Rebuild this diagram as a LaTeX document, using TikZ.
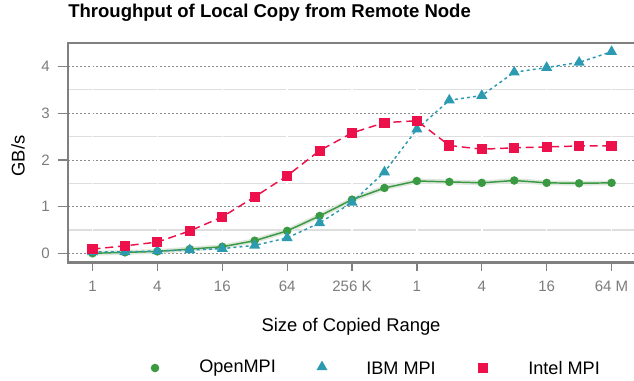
\documentclass[tikz,border=0pt]{standalone}
\usepackage{fontspec}
\setmainfont{Liberation Sans}
\usetikzlibrary{shapes.geometric}

\definecolor{ompicol}{RGB}{58,154,66}
\definecolor{ibmcol}{RGB}{44,154,176}
\definecolor{intelcol}{RGB}{236,17,74}
\definecolor{ticktext}{RGB}{125,125,125}
\definecolor{framecol}{RGB}{128,128,128}
\definecolor{majorcol}{RGB}{140,140,140}
\definecolor{minorcol}{RGB}{222,222,222}
\definecolor{ribboncol}{RGB}{222,230,222}

\pgfdeclarelayer{grid}
\pgfdeclarelayer{lines}
\pgfsetlayers{grid,lines,main}

\begin{document}
\begin{tikzpicture}[x=0.75pt,y=-0.75pt,
  titletext/.style={font=\fontsize{13.9}{16}\selectfont\bfseries, inner sep=0pt},
  axistitle/.style={font=\fontsize{13.8}{16}\selectfont, inner sep=0pt},
  legendtext/.style={font=\fontsize{13.6}{16}\selectfont, inner sep=0pt, anchor=west},
  ylab/.style={font=\fontsize{11.3}{13}\selectfont, text=ticktext, inner sep=0pt, anchor=east},
  xlab/.style={font=\fontsize{11.3}{13}\selectfont, text=ticktext, inner sep=0pt},
  tickline/.style={draw=framecol, line width=0.9pt},
  panelframe/.style={draw=framecol, line width=1.6pt},
  majorgrid/.style={draw=majorcol, line width=0.7pt, dash pattern=on 1.2pt off 1.8pt},
  minorgrid/.style={draw=minorcol, line width=0.8pt},
  vgrid/.style={draw=white, line width=1.1pt},
  ompiline/.style={draw=ompicol, line width=1.1pt},
  ibmline/.style={draw=ibmcol, line width=1.1pt, dash pattern=on 2.2pt off 2.4pt},
  intelline/.style={draw=intelcol, line width=1.1pt, dash pattern=on 6pt off 3.6pt},
  ribbon/.style={draw=ribboncol, line width=3.6pt, line join=round},
  ompimark/.style={circle, fill=ompicol, inner sep=0pt, minimum size=6.4pt},
  ibmmark/.style={regular polygon, regular polygon sides=3, fill=ibmcol, inner sep=0pt, minimum size=9.6pt},
  intelmark/.style={rectangle, fill=intelcol, inner sep=0pt, minimum size=7.6pt}]

\useasboundingbox (0,0) rectangle (634,381);
\begin{pgfonlayer}{grid}
  \fill[white] (0,0) rectangle (634,381);
\end{pgfonlayer}

% title
\node[titletext, anchor=base west] (title) at (68,17.5) {Throughput of Local Copy from Remote Node};

% data panel: x in steps of one doubling, y in GB/s
\begin{scope}[shift={(92.5,253.3)}, x=24.33pt, y=35pt]
  \def\panL{-0.755}
  \def\panR{16.7}
  \def\panB{-0.197}
  \def\panT{4.509}

  \begin{pgfonlayer}{grid}
    \foreach \v in {0.5,1.5,2.5,3.5}
      \draw[minorgrid] (\panL,\v) -- (\panR,\v);
    \foreach \v in {0,...,4}
      \draw[majorgrid] (\panL,\v) -- (\panR,\v);
    \foreach \i in {0,2,...,16}
      \draw[vgrid] (\i,\panB) -- (\i,\panT);
  \end{pgfonlayer}

  \draw[panelframe] (\panR,\panT) -- (\panL,\panT) -- (\panL,\panB) -- (\panR,\panB);

  % axis ticks and labels
  \foreach \v in {0,...,4} {
    \draw[tickline] (-1.063,\v) -- (\panL,\v);
    \node[ylab] (ylab\v) at (-1.31,\v) {\v};
  }
  \foreach \l [count=\k from 0] in {1,4,16,64,256 K,1,4,16,64 M} {
    \draw[tickline] (2*\k,\panB) -- (2*\k,-0.379);
    \node[xlab] (xlab\k) at (2*\k,-0.70) {\l};
  }

  % OpenMPI
  \foreach \v [count=\i from 0] in {0.00,0.02,0.04,0.09,0.14,0.27,0.48,0.80,1.15,1.40,1.55,1.53,1.51,1.56,1.51,1.50,1.51}
    \node[ompimark] (o\i) at (\i,\v) {};
  % IBM MPI
  \foreach \v [count=\i from 0] in {0.03,0.03,0.05,0.07,0.10,0.17,0.33,0.65,1.09,1.74,2.66,3.28,3.38,3.88,3.98,4.09,4.32}
    \node[ibmmark] (b\i) at (\i,\v) {};
  % Intel MPI
  \foreach \v [count=\i from 0] in {0.09,0.16,0.24,0.48,0.78,1.21,1.66,2.20,2.58,2.80,2.84,2.31,2.23,2.26,2.28,2.30,2.30}
    \node[intelmark] (n\i) at (\i,\v) {};

  \begin{pgfonlayer}{lines}
    \draw[ribbon] (o0.center) \foreach \i in {1,...,16} { -- (o\i.center) };
    \draw[ompiline] (o0.center) \foreach \i in {1,...,16} { -- (o\i.center) };
    \draw[ibmline] (b0.center) \foreach \i in {1,...,16} { -- (b\i.center) };
    \draw[intelline] (n0.center) \foreach \i in {1,...,16} { -- (n\i.center) };
  \end{pgfonlayer}
\end{scope}

% axis titles
\node[axistitle, anchor=base] (xtitle) at (351,331.5) {Size of Copied Range};
\node[axistitle, rotate=90] (ytitle) at (18,156) {GB/s};

% legend
\node[ompimark] (legompi) at (155,368) {};
\node[legendtext] (legompitext) at (199,368) {OpenMPI};
\node[ibmmark] (legibm) at (322,367) {};
\node[legendtext] (legibmtext) at (366,368) {IBM MPI};
\node[intelmark] (legintel) at (483,368) {};
\node[legendtext] (leginteltext) at (528,368) {Intel MPI};
\end{tikzpicture}
\end{document}
